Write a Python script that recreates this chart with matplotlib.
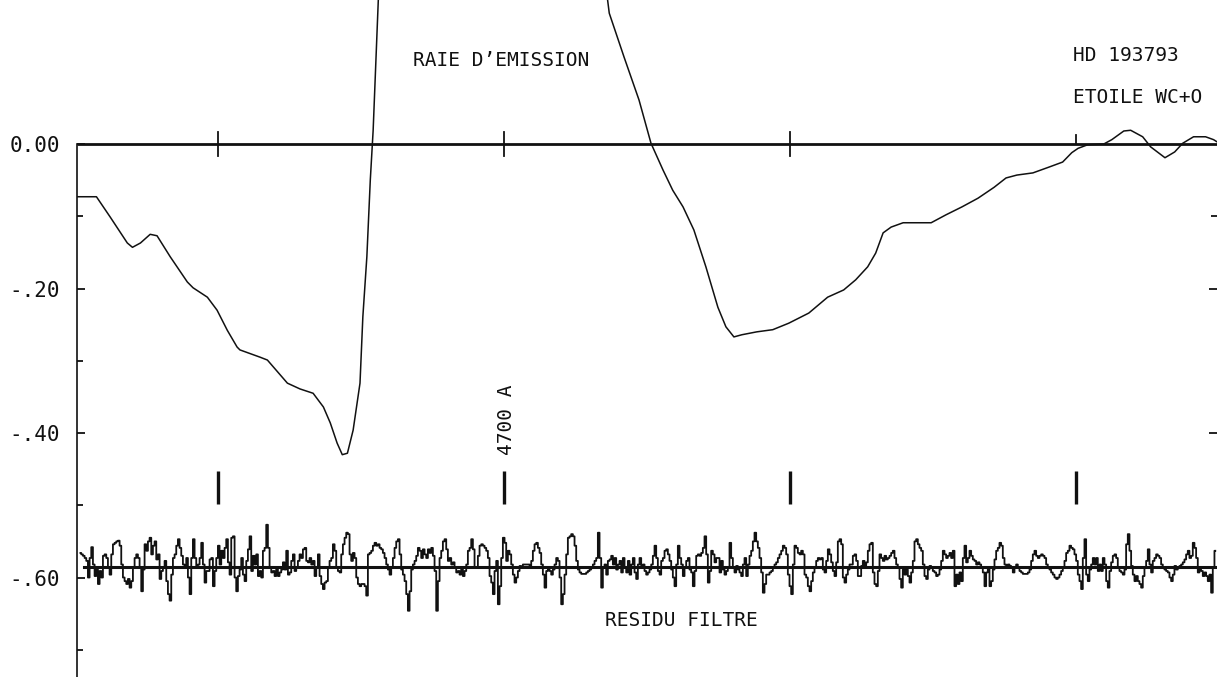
import numpy as np
import matplotlib
matplotlib.use("Agg")
import matplotlib.pyplot as plt
from matplotlib.ticker import FixedLocator

# ---- Spectrum of HD 193793 around the 4686/4650 emission blend ----
# Blue wing of the normalised spectrum (wavelength in Angstrom, flux level)
wl_blue = [4625.3, 4628.7, 4631.1, 4634.1, 4635.0, 4636.4, 4638.1, 4639.3,
           4641.6, 4644.6, 4645.6, 4648.1, 4649.8, 4651.6, 4653.3, 4653.8,
           4657.3, 4658.6, 4662.1, 4664.3, 4666.6, 4668.4, 4669.6, 4670.8,
           4671.7, 4672.6, 4673.6, 4674.8, 4675.3, 4676.0, 4676.6, 4677.1,
           4678.0]
fl_blue = [-0.073, -0.073, -0.101, -0.137, -0.143, -0.137, -0.125, -0.127,
           -0.156, -0.191, -0.199, -0.212, -0.230, -0.258, -0.281, -0.285,
           -0.295, -0.299, -0.331, -0.339, -0.345, -0.364, -0.386, -0.414,
           -0.430, -0.428, -0.396, -0.331, -0.239, -0.156, -0.050, 0.019,
           0.199]

# Emission line core (off scale)
wl_peak = [4680.0, 4700.0, 4716.5]
fl_peak = [0.42, 0.95, 0.30]

# Red wing
wl_red = [4718.4, 4721.0, 4723.6, 4725.7, 4727.8, 4729.5, 4731.3, 4733.2,
          4735.3, 4737.4, 4738.8, 4740.2, 4741.6, 4744.2, 4747.0, 4749.8,
          4753.3, 4756.6, 4759.4, 4761.5, 4763.6, 4765.0, 4766.3, 4767.7,
          4769.8, 4774.7, 4777.3, 4780.1, 4782.9, 4785.7, 4787.8, 4789.7,
          4792.5, 4795.3, 4797.7, 4799.3, 4800.4, 4802.1, 4804.9, 4806.3,
          4808.4, 4809.6, 4811.7, 4813.1, 4815.6, 4817.3, 4818.7, 4820.6,
          4822.7, 4824.1, 4824.7]
fl_red = [0.181, 0.120, 0.061, 0.001, -0.036, -0.064, -0.087, -0.119,
          -0.170, -0.226, -0.253, -0.267, -0.264, -0.260, -0.257, -0.248,
          -0.234, -0.212, -0.202, -0.188, -0.170, -0.151, -0.123, -0.115,
          -0.109, -0.109, -0.098, -0.087, -0.075, -0.060, -0.047, -0.043,
          -0.040, -0.032, -0.025, -0.012, -0.006, -0.001, 0.000, 0.006,
          0.018, 0.019, 0.010, -0.004, -0.019, -0.011, 0.001, 0.010,
          0.010, 0.006, 0.003]

# Filtered residual, in units of 1e-3, sampled on a regular grid
resid_start, resid_end = 4625.9, 4824.4
resid_level = -0.585
resid_milli = [
    19, 17, 15, 12, 8, -15, 12, 27, 3, -13, -4, -24, -6, -15, 15, 17, 12, -1,
    -11, 17, 31, 33, 35, 36, 29, 3, -15, -20, -24, -17, -29, -20, -1, 12, 17,
    12, -1, -34, -4, 31, 22, 35, 40, 17, 29, 35, 10, 17, -17, -6, -1, 8, -20,
    -38, -47, -11, 12, 17, 29, 38, 26, 15, 3, -1, 12, -15, -38, 12, 38, 12,
    -1, 3, 12, 33, 3, -22, -6, -6, 10, 12, -27, -6, 12, 29, 3, 22, 12, 26, 38,
    6, -11, 40, 42, -15, -34, -13, -4, 12, -11, -20, 8, 24, 42, -6, 15, 3, 17,
    -13, -6, -15, 22, 26, 58, 26, -1, -8, -6, -13, -1, -13, -8, -4, 6, -4, 22,
    -11, -8, 8, 17, -6, -1, 8, 17, 12, 24, 26, 8, 6, 12, 3, 8, -13, -1, 17,
    -13, -24, -31, -22, -20, -1, 8, 12, 31, 22, -1, -6, -8, 17, 31, 40, 47,
    45, 17, 8, 19, 12, -15, -24, -27,
    # 4675 - 4724 A
    -24, -24, -27, -40, 17, 19, 22, 29, 33, 29, 31, 26, 24, 19, 12, 3, -4,
    -11, -1, 12, 26, 35, 38, 17, -4, -11, -20, -38, -61, -34, -4, 3, 8, 15,
    26, 22, 12, 24, 17, 12, 24, 19, 26, 15, -6, -61, -20, 12, 22, 35, 38, 24,
    8, 12, 3, 6, -1, -8, -6, -11, -1, -13, -6, 3, 22, 26, 38, 24, -1, -1, 15,
    29, 31, 29, 26, 22, 12, -13, -22, -38, -6, 8, -52, -27, 12, 40, 33, 8, 22,
    17, 3, -11, -22, -15, -6, 1, -1, 3, 3, 3, 3, 1, 8, 22, 31, 33, 26, 19, 3,
    -11, -29, -6, -1, -6, -11, -4, 3, 12, 8, -15, -52, -38, -11, 17, 40, 42,
    45, 42, 29, 8, -4, -8, -10, -10, -10, -8, -6, -4, -1, 3, 8, 12, 47, 12,
    -29, -1, 3, -11, 8, 10, 15, 3, 12, -4, 3, 8, -8, 12, -1, -8, 8, -11, 3,
    12, -8, -17, 3, 12, -1, 3, -6,
    # 4724 - 4774 A
    -11, -8, -4, 3, 15, 29, 12, -6, -11, 8, 12, 22, 24, 17, 8, -4, -15, -27,
    3, 29, 12, 3, -13, -1, 8, 12, -4, -8, -27, -6, 15, 17, 15, 19, 26, 42, 17,
    -22, -6, 22, 17, 6, 12, 12, -8, 8, -4, -11, -6, -1, 33, 12, -1, -8, 1, -4,
    -8, -13, 3, 12, -13, 3, 15, 22, 35, 47, 35, 26, 12, -8, -36, -24, -11,
    -11, -8, -6, -1, 3, 6, 12, 17, 22, 29, 26, 17, -11, -27, -38, 3, 29, 26,
    19, 17, 22, 17, -11, -15, -27, -34, -20, -8, -1, 8, 12, 10, 12, -4, -8, 8,
    24, 17, 6, -6, -13, 6, 35, 38, 31, -15, -22, -11, -4, 3, 3, 15, 17, 8,
    -13, -13, 1, 8, -1, 6, 22, 31, 33, -8, -24, -27, -6, 17, 12, 8, 15, 10,
    12, 15, 19, 22, 12, 3, -1, -17, -29, -4, -11, -4, -13, -22, -8, 8, 35, 38,
    31, 26, 22, 3, -13, -17, -4, 1,
    # 4774 - 4824 A
    -1, -6, -8, -13, -11, -4, 8, 22, 17, 12, 15, 19, 12, 22, -27, -11, -24,
    -8, -20, 12, 29, 6, 12, 22, 15, 10, 8, 3, 6, 3, -1, -8, -27, -8, -1, -27,
    -20, -4, 10, 22, 26, 33, 29, 12, 3, 1, 3, 1, -1, -8, -1, 3, -1, -6, -8,
    -10, -10, -10, -8, -4, 8, 17, 22, 15, 12, 15, 17, 15, 12, 3, -1, -4, -8,
    -11, -15, -17, -15, -11, -6, -1, 8, 19, 22, 29, 26, 24, 17, 8, -11, -20,
    -31, 12, 38, -11, -20, -4, 3, 12, 3, 12, -6, 3, -6, 12, 3, -20, -29, -6,
    6, 15, 17, 12, -1, -6, -8, -11, -4, 31, 45, 22, 1, -11, -20, -13, -20,
    -24, -29, -13, -1, 8, 24, 3, -8, 8, 12, 17, 15, 12, 3, -1, -4, -6, -8,
    -15, -20, -11, 1, -4, -1, 1, 3, 6, 10, 17, 22, 12, 15, 33, 26, 12, -8, -4,
    -6, -13, -8, -13, -20, -11, -36, -1, 22,
]

# Wavelength marks drawn below the spectrum
mark_wl = [4650, 4700, 4750, 4800]

# Y axis ticks
ytick_major = [0.0, -0.2, -0.4, -0.6]
ytick_labels = ["0.00", "-.20", "-.40", "-.60"]
ytick_minor = [-0.1, -0.3, -0.5, -0.7]
# ticks repeated on the right-hand edge
right_ticks = [-0.1, -0.2, -0.4]

W, H = 1217, 677
fig = plt.figure(figsize=(W / 100, H / 100), dpi=100)
fig.patch.set_facecolor("white")
ax = fig.add_axes([77 / W, 0.0, 1140 / W, 1.0])
ax.set_xlim(4625.3, 4824.7)
ax.set_ylim(-0.7377, 0.1993)

ink = "#111111"
mono = "DejaVu Sans Mono"

# spines and ticks
for side in ("top", "bottom", "right"):
    ax.spines[side].set_visible(False)
ax.spines["left"].set_bounds(-0.7377, 0.0)
ax.spines["left"].set_linewidth(1.2)
ax.spines["left"].set_color(ink)
ax.xaxis.set_visible(False)
ax.yaxis.set_major_locator(FixedLocator(ytick_major))
ax.yaxis.set_minor_locator(FixedLocator(ytick_minor))
ax.set_yticklabels(ytick_labels, fontfamily=mono, fontsize=15, color=ink)
ax.tick_params(axis="y", which="major", direction="in", length=6, width=1.3,
               pad=12, color=ink, right=True)
ax.tick_params(axis="y", which="minor", direction="in", length=4, width=1.3,
               color=ink, right=True)
fig.canvas.draw()
for loc, tick in zip(ytick_major, ax.yaxis.get_major_ticks()):
    tick.tick2line.set_visible(loc in right_ticks)
for loc, tick in zip(ytick_minor, ax.yaxis.get_minor_ticks()):
    tick.tick2line.set_visible(loc in right_ticks)

# reference line at zero and its wavelength ticks
ax.plot([4625.3, 4824.7], [0.0, 0.0], color=ink, lw=2.0, solid_capstyle="butt")
for w in mark_wl[:3]:
    ax.plot([w, w], [-0.017, 0.017], color=ink, lw=1.3)
ax.plot([mark_wl[3], mark_wl[3]], [0.0, 0.013], color=ink, lw=1.3)

# spectrum
wl = wl_blue + wl_peak + wl_red
fl = fl_blue + fl_peak + fl_red
ax.plot(wl, fl, color=ink, lw=1.1)

# wavelength marks
for w in mark_wl:
    ax.plot([w, w], [-0.452, -0.498], color=ink, lw=2.4, solid_capstyle="butt")

# residual
resid = np.array(resid_milli) * 1e-3
resid_wl = np.linspace(resid_start, resid_end, len(resid))
ax.plot([4626.6, 4824.7], [resid_level, resid_level], color=ink, lw=2.2)
ax.plot(resid_wl, resid_level + resid, color=ink, lw=1.3, drawstyle="steps-mid")

# annotations
txt = dict(fontfamily=mono, fontsize=14, color=ink)
ax.text(4684.1, 0.115, "RAIE D\u2019EMISSION", ha="left", va="center", **txt)
ax.text(4799.5, 0.122, "HD 193793", ha="left", va="center", **txt)
ax.text(4799.5, 0.065, "ETOILE WC+O", ha="left", va="center", **txt)
ax.text(4700.4, -0.382, "4700 A", ha="center", va="center", rotation=90, **txt)
ax.text(4717.7, -0.659, "RESIDU FILTRE", ha="left", va="center", **txt)

fig.savefig("out.png", dpi=100, facecolor="white")
